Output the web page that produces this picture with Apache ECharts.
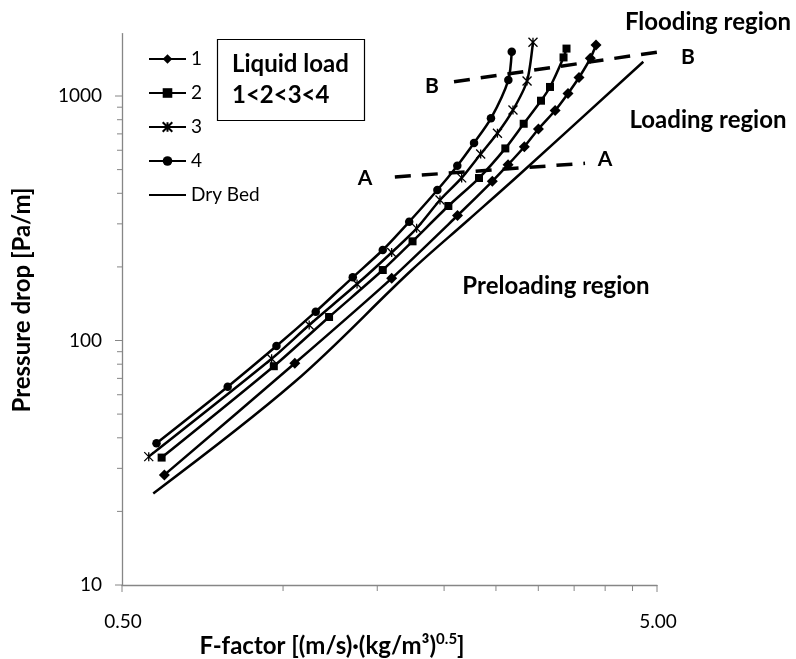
<!DOCTYPE html>
<html><head><meta charset="utf-8">
<script src="https://cdn.jsdelivr.net/npm/echarts@6/dist/echarts.min.js"></script>
<style>html,body{margin:0;padding:0;background:#fff}#c{width:796px;height:659px}</style>
</head><body><div id="c"></div>
<script>
// ---- data (F-factor, pressure drop) ----
const load1X = [0.600,1.052,1.596,2.119,2.461,2.634,2.825,3.002,3.225,3.409,3.574,3.753,3.846];
const load1Y = [28.2,80.7,179.6,324.5,447.8,523.6,620.3,732.8,872,1024,1190,1426,1617];
const load2X = [0.593,0.961,1.219,1.536,1.746,2.037,2.324,2.603,2.817,3.035,3.155,3.344,3.387];
const load2Y = [33.2,78.5,124.8,194.2,254.5,354.9,461.9,610.5,770,956.8,1089,1438,1563];
const load3X = [0.561,0.952,1.119,1.375,1.596,1.777,1.965,2.157,2.341,2.516,2.690,2.858,2.932];
const load3Y = [33.5,84.2,115.7,170.2,229.1,287.6,375.5,462.4,579,703.8,876,1152,1660];
const load4X = [0.580,0.788,0.972,1.151,1.350,1.536,1.721,1.943,2.117,2.275,2.447,2.637,2.676];
const load4Y = [38,64.7,94.9,131.2,181.3,234.5,306,412.6,518.8,642.5,810.4,1162.7,1518];
const dryX = [0.572,1.052,1.740,2.219,2.773,4.714];
const dryY = [23.7,67.8,194.2,311,479.8,1381];
const lineAX = [1.618,3.668];
const lineAY = [466.6,530.6];
const lineBX = [2.087,5.22];
const lineBY = [1144,1532];
const seriesNames = ['1','2','3','4','Dry Bed'];
// ---- axis ticks / labels ----
const xMin = 0.5, xMax = 5, yMin = 10, yMax = 1800;
const xMajorTicks = [0.5,5];
const xMinorTicks = [1,1.5,2,2.5,3,3.5,4,4.5];
const xTickLabels = ['0.50','5.00'];
const yMajorTicks = [10,100,1000];
const yMinorTicks = [20,30,40,50,60,70,80,90,200,300,400,500,600,700,800,900];
const yTickLabels = ['10','100','1000'];

const zip = (xs, ys) => xs.map((x,i)=>[x, ys[i]]);
const FONT = 'Lato';
const AXC = '#868686';

function tickSeries(data, dir, len){
  return {
    type:'custom', coordinateSystem:'cartesian2d', silent:true, clip:false, z:1,
    data: data,
    renderItem: function(params, api){
      const p = api.coord([api.value(0), api.value(1)]);
      const s = dir==='down' ? {x1:p[0],y1:p[1],x2:p[0],y2:p[1]+len} : {x1:p[0],y1:p[1],x2:p[0]-len,y2:p[1]};
      return {type:'line', shape:s, style:{stroke:AXC, lineWidth:1}};
    }
  };
}
function labelSeries(data, labels, dir){
  return {
    type:'custom', coordinateSystem:'cartesian2d', silent:true, clip:false, z:1,
    data: data,
    renderItem: function(params, api){
      const p = api.coord([api.value(0), api.value(1)]);
      const t = labels[params.dataIndex];
      if(dir==='down'){
        return {type:'text', x:p[0]+1, y:p[1]+37, style:{text:t, fill:'#000', font:'19px '+FONT, align:'center', verticalAlign:'middle'}};
      }
      return {type:'text', x:p[0]-20, y:p[1], style:{text:t, fill:'#000', font:'19px '+FONT, align:'right', verticalAlign:'middle'}};
    }
  };
}
const lineBase = {type:'line', smooth:0.25, lineStyle:{color:'#000', width:2.5}, itemStyle:{color:'#000'}, z:3, clip:false};

const option = {
  animation:false,
  backgroundColor:'#fff',
  textStyle:{fontFamily:FONT},
  grid:{left:122, right:139, top:33.6, bottom:74, containLabel:false, outerBoundsMode:'none'},
  xAxis:{type:'log', logBase:10, min:xMin, max:xMax,
    axisLine:{show:true, onZero:false, lineStyle:{color:AXC, width:1.3}},
    axisTick:{show:false}, axisLabel:{show:false}, splitLine:{show:false}, minorTick:{show:false}},
  yAxis:{type:'log', logBase:10, min:yMin, max:yMax,
    axisLine:{show:true, onZero:false, lineStyle:{color:AXC, width:1.3}},
    axisTick:{show:false}, axisLabel:{show:false}, splitLine:{show:false}, minorTick:{show:false}},
  legend:{
    data: seriesNames, orient:'vertical', left:143, top:44, itemWidth:37, itemHeight:12, itemGap:14,
    textStyle:{fontFamily:FONT, fontSize:19, color:'#000', lineHeight:20}, selectedMode:false
  },
  series:[
    Object.assign({}, lineBase, {name:seriesNames[0], data:zip(load1X,load1Y), symbol:'diamond', symbolSize:11}),
    Object.assign({}, lineBase, {name:seriesNames[1], data:zip(load2X,load2Y), symbol:'rect', symbolSize:8}),
    Object.assign({}, lineBase, {name:seriesNames[2], data:zip(load3X,load3Y), symbol:'path://M0,0L10,10M10,0L0,10M5,0L5,10', symbolSize:9,
      itemStyle:{color:'#000', borderColor:'#000', borderWidth:1.3}}),
    Object.assign({}, lineBase, {name:seriesNames[3], data:zip(load4X,load4Y), symbol:'circle', symbolSize:8.5}),
    Object.assign({}, lineBase, {name:seriesNames[4], data:zip(dryX,dryY), symbol:'none', smooth:0.35,
      itemStyle:{color:'rgba(0,0,0,0)', borderWidth:0}}),
    {type:'line', name:'A', data:zip(lineAX,lineAY), symbol:'none', clip:false, silent:true, z:2,
      lineStyle:{color:'#000', width:3.5, type:[16,11]}},
    {type:'line', name:'B', data:zip(lineBX,lineBY), symbol:'none', clip:false, silent:true, z:2,
      lineStyle:{color:'#000', width:3.5, type:[16,11]}},
    tickSeries(xMajorTicks.map(v=>[v,yMin]), 'down', 7),
    tickSeries(xMinorTicks.map(v=>[v,yMin]), 'down', 6),
    tickSeries(yMajorTicks.map(v=>[xMin,v]), 'left', 7),
    tickSeries(yMinorTicks.map(v=>[xMin,v]), 'left', 5),
    labelSeries(xMajorTicks.map(v=>[v,yMin]), xTickLabels, 'down'),
    labelSeries(yMajorTicks.map(v=>[xMin,v]), yTickLabels, 'left')
  ],
  graphic:[
    {type:'rect', shape:{x:217.5, y:39.5, width:147, height:81}, style:{fill:'#fff', stroke:'#000', lineWidth:1.2}, z:10},
    {type:'text', x:232, y:64, style:{text:'Liquid load', font:'bold 24px '+FONT, fill:'#000', verticalAlign:'middle'}, z:11},
    {type:'text', x:232, y:95, style:{text:'1<2<3<4', font:'bold 24px '+FONT, fill:'#000', verticalAlign:'middle'}, z:11},
    {type:'text', x:708, y:22, style:{text:'Flooding region', font:'bold 24px '+FONT, fill:'#000', align:'center', verticalAlign:'middle'}},
    {type:'text', x:708, y:120, style:{text:'Loading region', font:'bold 24px '+FONT, fill:'#000', align:'center', verticalAlign:'middle'}},
    {type:'text', x:556, y:286, style:{text:'Preloading region', font:'bold 24px '+FONT, fill:'#000', align:'center', verticalAlign:'middle'}},
    {type:'text', x:432, y:86, style:{text:'B', font:'bold 21px '+FONT, fill:'#000', align:'center', verticalAlign:'middle'}},
    {type:'text', x:688, y:57, style:{text:'B', font:'bold 21px '+FONT, fill:'#000', align:'center', verticalAlign:'middle'}},
    {type:'text', x:365, y:178, style:{text:'A', font:'bold 21px '+FONT, fill:'#000', align:'center', verticalAlign:'middle'}},
    {type:'text', x:605, y:159, style:{text:'A', font:'bold 21px '+FONT, fill:'#000', align:'center', verticalAlign:'middle'}},
    {type:'text', x:22, y:300, rotation:Math.PI/2, style:{text:'Pressure drop [Pa/m]', font:'bold 24px '+FONT, fill:'#000', align:'center', verticalAlign:'middle'}},
    {type:'text', x:332, y:646, style:{
      text:'{a|F-factor [(m/s)·(kg/m³)}{s|0.5}{a|]}', align:'center', verticalAlign:'middle',
      rich:{a:{font:'bold 24px '+FONT, fill:'#000', lineHeight:28, verticalAlign:'middle'}, s:{font:'bold 15px '+FONT, fill:'#000', lineHeight:28, verticalAlign:'top'}}}}
  ]
};
const chart = echarts.init(document.getElementById('c'), null, {renderer:'canvas'});
chart.setOption(option);
</script>
</body></html>
